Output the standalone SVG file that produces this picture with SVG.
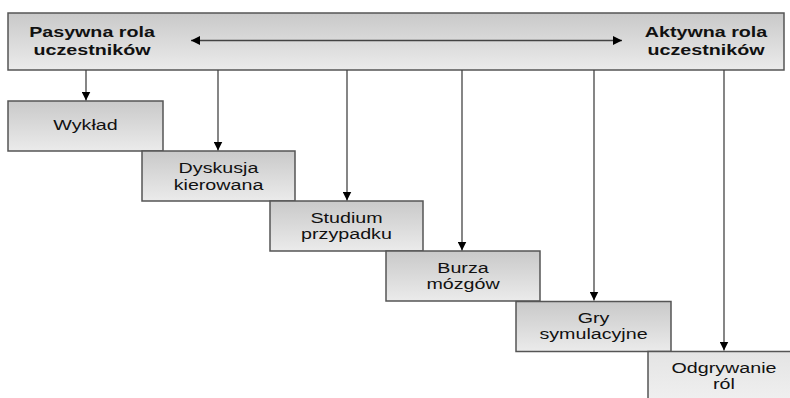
<svg xmlns="http://www.w3.org/2000/svg" width="790" height="398" viewBox="0 0 790 398">
<style>
.box{stroke:#555;stroke-width:1.5;fill:url(#g)}
.t{font-family:"Liberation Sans",Arial,sans-serif;font-size:15.5px;fill:#111;text-anchor:middle}
.b{font-weight:bold}
.c{stroke:#444;stroke-width:1.3;fill:none}
</style>
<defs>
<linearGradient id="g" x1="0" y1="0" x2="0" y2="1">
<stop offset="0" stop-color="#c9c9c9"/>
<stop offset="1" stop-color="#ebebeb"/>
</linearGradient>
<linearGradient id="g6" x1="0" y1="0" x2="0" y2="1">
<stop offset="0" stop-color="#e4e4e4"/>
<stop offset="1" stop-color="#f2f2f2"/>
</linearGradient>
<marker id="ah" viewBox="0 0 10 10" refX="10" refY="5" markerWidth="9" markerHeight="9" markerUnits="userSpaceOnUse" orient="auto">
<path d="M0,0 L10,5 L0,10 z" fill="#000"/>
</marker>
</defs>
<g id="top">
<rect class="box" x="8" y="13" width="776" height="57"/>
<text class="t b" transform="translate(92,37) scale(1.27,1)">Pasywna rola</text>
<text class="t b" transform="translate(92,55) scale(1.27,1)">uczestników</text>
<text class="t b" transform="translate(706,37) scale(1.27,1)">Aktywna rola</text>
<text class="t b" transform="translate(706,55) scale(1.27,1)">uczestników</text>
</g>
<g id="n1">
<rect class="box" x="8" y="101" width="155" height="50"/>
<text class="t" transform="translate(85.5,130) scale(1.27,1)">Wykład</text>
</g>
<g id="n2">
<rect class="box" x="142" y="151" width="153" height="50"/>
<text class="t" transform="translate(218.5,173) scale(1.27,1)">Dyskusja</text>
<text class="t" transform="translate(218.5,190) scale(1.27,1)">kierowana</text>
</g>
<g id="n3">
<rect class="box" x="270" y="201" width="153" height="50"/>
<text class="t" transform="translate(346.5,223) scale(1.27,1)">Studium</text>
<text class="t" transform="translate(346.5,239) scale(1.27,1)">przypadku</text>
</g>
<g id="n4">
<rect class="box" x="386" y="251" width="154" height="50"/>
<text class="t" transform="translate(463,273) scale(1.27,1)">Burza</text>
<text class="t" transform="translate(463,289) scale(1.27,1)">mózgów</text>
</g>
<g id="n5">
<rect class="box" x="516" y="301.5" width="155" height="50"/>
<text class="t" transform="translate(593.5,323) scale(1.27,1)">Gry</text>
<text class="t" transform="translate(593.5,339) scale(1.27,1)">symulacyjne</text>
</g>
<g id="n6">
<rect class="box" x="648" y="351.5" width="160" height="60" style="fill:url(#g6)"/>
<text class="t" transform="translate(724,373) scale(1.27,1)">Odgrywanie</text>
<text class="t" transform="translate(724,389) scale(1.27,1)">ról</text>
</g>
<g id="connectors">
<line class="c" x1="300" y1="40.5" x2="191" y2="40.5" marker-end="url(#ah)"/>
<line class="c" x1="300" y1="40.5" x2="622" y2="40.5" marker-end="url(#ah)"/>
<line class="c" x1="86" y1="70" x2="86" y2="100.5" marker-end="url(#ah)"/>
<line class="c" x1="218" y1="70" x2="218" y2="150.5" marker-end="url(#ah)"/>
<line class="c" x1="347" y1="70" x2="347" y2="200.5" marker-end="url(#ah)"/>
<line class="c" x1="462" y1="70" x2="462" y2="250.5" marker-end="url(#ah)"/>
<line class="c" x1="594" y1="70" x2="594" y2="300.5" marker-end="url(#ah)"/>
<line class="c" x1="724" y1="70" x2="724" y2="350.5" marker-end="url(#ah)"/>
</g>
</svg>
